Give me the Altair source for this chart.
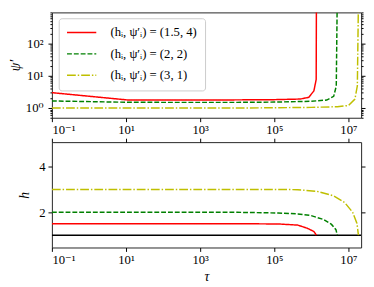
import altair as alt
import pandas as pd

series_names = ["(hᵢ, ψ′ᵢ) = (1.5, 4)", "(hᵢ, ψ′ᵢ) = (2, 2)", "(hᵢ, ψ′ᵢ) = (3, 1)"]
series_colors = ["#ff0000", "#008000", "#bfbf00"]
series_dashes = [[1, 0], [5, 2], [9, 2, 1.5, 2]]

# psi' (top panel)
psi_tau_red = [0.1, 11, 100, 1e3, 1e4, 1e5, 5e5, 8.5e5, 1.17e6, 1.35e6, 1.37e6]
psi_red = [3.0, 1.78, 1.78, 1.78, 1.79, 1.82, 1.9, 2.15, 3.4, 7.7, 3000]
psi_tau_green = [0.1, 11, 100, 1e3, 1e4, 1e5, 1e6, 2.6e6, 4e6, 4.7e6, 5.0e6]
psi_green = [1.66, 1.51, 1.5, 1.5, 1.5, 1.53, 1.62, 1.77, 2.3, 4.8, 3000]
psi_tau_yellow = [0.1, 11, 100, 1e3, 1e4, 1e5, 1e6, 5e6, 1e7, 1.5e7, 1.74e7, 1.87e7]
psi_yellow = [1.0, 1.0, 1.0, 1.0, 1.0, 1.02, 1.05, 1.1, 1.2, 1.9, 4.9, 3000]

# h (bottom panel)
h_tau_red = [0.1, 1e3, 1e4, 1.27e5, 4.3e5, 7.8e5, 1.17e6, 1.3e6, 1.37e6]
h_red = [1.5, 1.5, 1.5, 1.49, 1.44, 1.30, 1.16, 1.05, 1.0]
h_tau_green = [0.1, 1e3, 1e4, 1.27e5, 4.3e5, 9.6e5, 2.1e6, 3.5e6, 4.6e6, 5.0e6]
h_green = [2.0, 2.0, 2.0, 1.97, 1.93, 1.86, 1.69, 1.47, 1.24, 1.0]
h_tau_yellow = [0.1, 1e3, 1e4, 1.27e5, 4.3e5, 1.4e6, 4e6, 8e6, 1.3e7, 1.7e7, 1.86e7]
h_yellow = [3.0, 3.0, 3.0, 3.0, 2.99, 2.92, 2.72, 2.42, 2.0, 1.51, 1.0]

base_tau = [0.1, 2.2e7]
base_h = [1.0, 1.0]

x_domain = [0.1, 2.2e7]
psi_domain = [0.5, 920]
h_domain = [0.46, 5.07]
x_ticks = [0.1, 10, 1e3, 1e5, 1e7]
psi_ticks = [0.5, 0.6, 0.7, 0.8, 0.9, 1, 2, 3, 4, 5, 6, 7, 8, 9, 10,
             20, 30, 40, 50, 60, 70, 80, 90, 100, 200, 300, 400, 500, 600, 700, 800, 900]
h_ticks = [2, 4]


def long_df(taus, vals, names, col):
    rows = []
    for t_list, v_list, n in zip(taus, vals, names):
        for i, (t, v) in enumerate(zip(t_list, v_list)):
            rows.append({"tau": t, col: v, "series": n, "order": i})
    return pd.DataFrame(rows)


psi_df = long_df([psi_tau_red, psi_tau_green, psi_tau_yellow],
                 [psi_red, psi_green, psi_yellow], series_names, "val")
h_df = long_df([h_tau_red, h_tau_green, h_tau_yellow],
               [h_red, h_green, h_yellow], series_names, "val")
base_df = pd.DataFrame({"tau": base_tau, "val": base_h})

FONT = "Liberation Serif, DejaVu Serif"
x_label_expr = ("datum.value < 1 ? '10⁻¹' : datum.value < 100 ? '10¹' : "
                "datum.value < 1e4 ? '10³' : datum.value < 1e6 ? '10⁵' : '10⁷'")
psi_label_expr = ("datum.value == 1 ? '10⁰' : datum.value == 10 ? '10¹' : "
                  "datum.value == 100 ? '10²' : ''")
major_test = "datum.value == 1 || datum.value == 10 || datum.value == 100"

x_scale = alt.Scale(type="log", domain=x_domain, nice=False)
psi_scale = alt.Scale(type="log", domain=psi_domain, nice=False)
h_scale = alt.Scale(domain=h_domain, nice=False, zero=False)

color_scale = alt.Scale(domain=series_names, range=series_colors)
dash_scale = alt.Scale(domain=series_names, range=series_dashes)

legend = alt.Legend(orient="none", legendX=7, legendY=6, title=None,
                    symbolType="M-2,0H8", symbolSize=36, symbolStrokeWidth=1.5,
                    labelFont=FONT, labelFontSize=13, labelColor="black",
                    fillColor="white", strokeColor="#cccccc", cornerRadius=3,
                    padding=8, labelOffset=32, rowPadding=8)

W = 317

# top panel
top_lines = alt.Chart(psi_df).mark_line(strokeWidth=1.5, clip=True).encode(
    x=alt.X("tau:Q", scale=x_scale,
            axis=alt.Axis(values=x_ticks, labelExpr=x_label_expr, title=None,
                          tickSize=4, labelPadding=2)),
    y=alt.Y("val:Q", scale=psi_scale,
            axis=alt.Axis(values=psi_ticks, labelExpr=psi_label_expr, title="ψ′",
                          tickSize={"condition": {"test": major_test, "value": 4}, "value": 2},
                          labelPadding=5, titlePadding=3)),
    color=alt.Color("series:N", scale=color_scale, legend=legend, sort=series_names),
    strokeDash=alt.StrokeDash("series:N", scale=dash_scale, legend=legend, sort=series_names),
    order="order:Q",
)
top_mirror = alt.Chart(psi_df).mark_line(opacity=0, clip=True).encode(
    x=alt.X("tau:Q", scale=x_scale, axis=None),
    y=alt.Y("val:Q", scale=psi_scale,
            axis=alt.Axis(orient="right", values=psi_ticks, labels=False, title=None,
                          tickSize={"condition": {"test": major_test, "value": 4}, "value": 2})),
    detail="series:N",
    order="order:Q",
)
top = alt.layer(top_lines, top_mirror).resolve_axis(x="independent", y="independent").properties(
    width=W, height=108)

# bottom panel
bot_base = alt.Chart(base_df).mark_line(color="black", strokeWidth=1.5, clip=True).encode(
    x=alt.X("tau:Q", scale=x_scale,
            axis=alt.Axis(values=x_ticks, labelExpr=x_label_expr, title="τ",
                          tickSize=4, labelPadding=2, titlePadding=4)),
    y=alt.Y("val:Q", scale=h_scale,
            axis=alt.Axis(values=h_ticks, title="h", tickSize=4, labelPadding=3,
                          titlePadding=7)),
)
bot_lines = alt.Chart(h_df).mark_line(strokeWidth=1.5, clip=True).encode(
    x=alt.X("tau:Q", scale=x_scale, axis=None),
    y=alt.Y("val:Q", scale=h_scale, axis=None),
    color=alt.Color("series:N", scale=color_scale, legend=None, sort=series_names),
    strokeDash=alt.StrokeDash("series:N", scale=dash_scale, legend=None, sort=series_names),
    order="order:Q",
)
bot_mirror = alt.Chart(base_df).mark_line(opacity=0, clip=True).encode(
    x=alt.X("tau:Q", scale=x_scale,
            axis=alt.Axis(orient="top", values=x_ticks, labels=False, title=None, tickSize=4)),
    y=alt.Y("val:Q", scale=h_scale,
            axis=alt.Axis(orient="right", values=h_ticks, labels=False, title=None, tickSize=4)),
)
bottom = alt.layer(bot_base, bot_lines, bot_mirror).resolve_axis(
    x="independent", y="independent").properties(width=W, height=108)

chart = alt.vconcat(top, bottom, spacing=0).resolve_scale(
    color="independent", strokeDash="independent"
).properties(padding=0).configure_view(
    stroke="#222222", strokeWidth=1
).configure_axis(
    domain=False, grid=False, tickColor="black", tickWidth=1,
    labelFont=FONT, labelFontSize=13, labelColor="black",
    titleFont=FONT, titleFontSize=14, titleFontWeight="normal",
    titleFontStyle="italic", titleColor="black",
)

chart.save("out.html", embed_options={"renderer": "svg", "actions": False})
